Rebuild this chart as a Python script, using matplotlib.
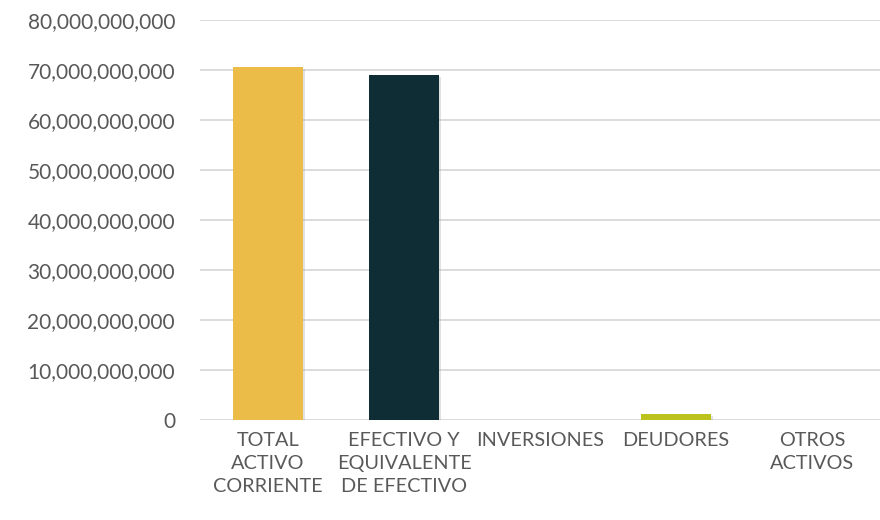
import matplotlib
matplotlib.use("Agg")
import matplotlib.pyplot as plt
from matplotlib.ticker import FuncFormatter
import matplotlib.patheffects as pe

categories = ["TOTAL\nACTIVO\nCORRIENTE", "EFECTIVO Y\nEQUIVALENTE\nDE EFECTIVO",
              "INVERSIONES", "DEUDORES", "OTROS\nACTIVOS"]
values = [70600000000, 69000000000, 0, 1200000000, 80000000]
colors = ["#ebbd48", "#0e2d35", "#a5a5a5", "#bbc21b", "#d9d9d9"]

plt.rcParams['font.family'] = ['Lato', 'DejaVu Sans']

fig = plt.figure(figsize=(8.8, 5.2), dpi=100)
ax = fig.add_axes([200/880, 100/520, 680/880, 400/520])

bars = ax.bar(range(len(values)), values, width=0.52, color=colors, zorder=3)
for b in bars:
    b.set_path_effects([pe.SimplePatchShadow(offset=(1.5, -1.5), shadow_rgbFace='#aaaaaa', alpha=0.35), pe.Normal()])

ax.set_xlim(-0.5, len(values) - 0.5)
ax.set_ylim(0, 80000000000)
ax.set_yticks([i * 10000000000 for i in range(9)])
ax.yaxis.set_major_formatter(FuncFormatter(lambda v, p: f"{int(v):,}"))
ax.grid(axis='y', color='#d9d9d9', linewidth=1.3, zorder=0)
ax.set_xticks(range(len(values)))
ax.set_xticklabels(categories, linespacing=1.4)
for s in ax.spines.values():
    s.set_visible(False)
ax.tick_params(axis='both', length=0, colors='#595959')
ax.tick_params(axis='y', pad=18, labelsize=15)
ax.tick_params(axis='x', pad=9, labelsize=14.3)

fig.savefig("out.png", dpi=100)
